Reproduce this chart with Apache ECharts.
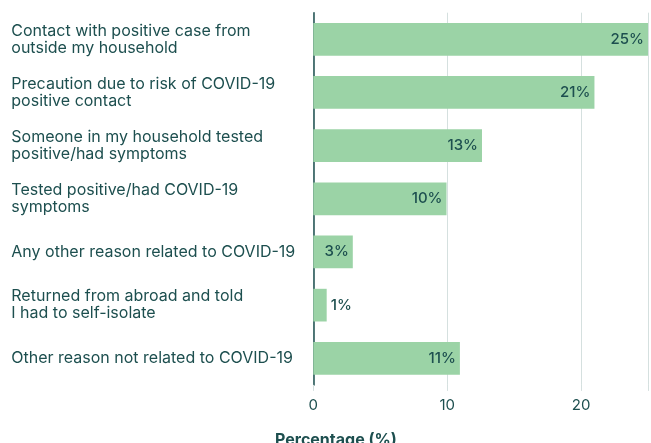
<!DOCTYPE html>
<html><head><meta charset="utf-8">
<script src="https://cdn.jsdelivr.net/npm/echarts@6/dist/echarts.min.js"></script>
<style>html,body{margin:0;padding:0;background:#fff}#c{width:651px;height:443px}</style>
</head><body><div id="c"></div>
<script>
const categories = [
  "Contact with positive case from\noutside my household",
  "Precaution due to risk of COVID-19\npositive contact",
  "Someone in my household tested\npositive/had symptoms",
  "Tested positive/had COVID-19\nsymptoms",
  "Any other reason related to COVID-19",
  "Returned from abroad and told\nI had to self-isolate",
  "Other reason not related to COVID-19"
];
const values = [25.0, 21.0, 12.6, 9.95, 2.95, 1.0, 10.95];
const xTicks = [0, 10, 20];
const axisTitle = "Percentage (%)";

const TXT = '#1d4f4f';
const FONT = 'Inter';
const chart = echarts.init(document.getElementById('c'), null, {renderer:'canvas'});
chart.setOption({
  animation: false,
  title: { text: axisTitle, left: 270, top: 427, textStyle: { fontFamily: FONT, fontSize: 16, fontWeight: 'bold', color: TXT } },
  grid: { left: 313.3, right: 0, top: 12.7, bottom: 58.1, containLabel: false },
  xAxis: {
    type: 'value', min: 0, max: 25, interval: 10,
    axisLine: { show: false },
    axisTick: { show: true, length: 6, lineStyle: { color: '#d5e0df' } },
    splitLine: { show: true, lineStyle: { color: '#d5e0df', width: 1 } },
    axisLabel: { margin: 13, color: TXT, fontFamily: FONT, fontSize: 15,
      formatter: v => xTicks.includes(v) ? String(v) : '' }
  },
  yAxis: {
    type: 'category', data: categories, inverse: true,
    axisLine: { show: true, lineStyle: { color: TXT, width: 1.5 } },
    axisTick: { show: false },
    axisLabel: { align: 'left', margin: 302, color: TXT, fontFamily: FONT, fontSize: 16, lineHeight: 17 }
  },
  series: [{
    type: 'bar', data: values.map((v, i) => ({
      value: v,
      label: v < 2 ? { position: 'right', distance: 4 } : undefined
    })),
    barWidth: 32.7,
    itemStyle: { color: '#9bd3a6' },
    label: { show: true, position: 'insideRight', distance: 4, color: TXT, fontFamily: FONT, fontSize: 15, fontWeight: 500,
      formatter: p => Math.round(p.value) + '%' }
  }]
});
</script></body></html>
